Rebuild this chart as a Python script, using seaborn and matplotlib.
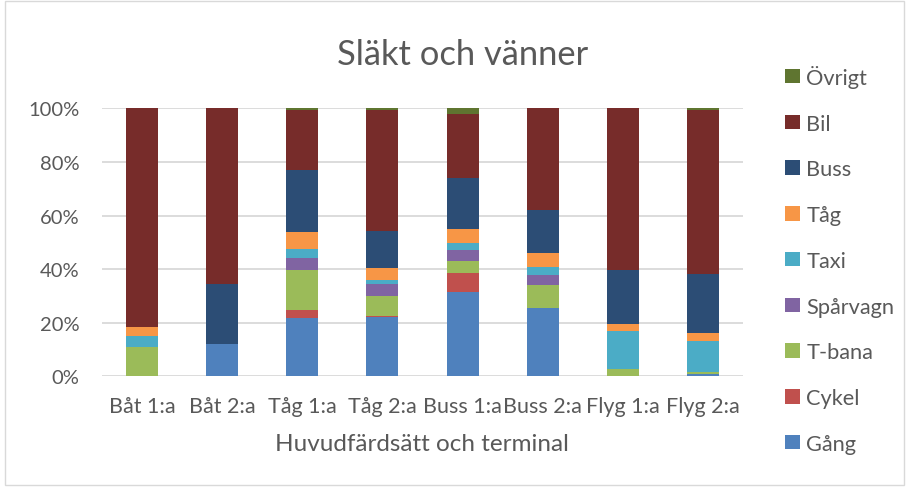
import numpy as np
import pandas as pd
import matplotlib
matplotlib.use("Agg")
import matplotlib.pyplot as plt
from matplotlib.patches import Patch, Rectangle
from matplotlib.ticker import PercentFormatter
import seaborn as sns

# terminals / main travel mode
categories = ['Båt 1:a', 'Båt 2:a', 'Tåg 1:a', 'Tåg 2:a', 'Buss 1:a', 'Buss 2:a', 'Flyg 1:a', 'Flyg 2:a']

# share (%) per access mode, bottom to top
gang     = [0.0, 12.0, 21.6, 22.0, 31.3, 25.4, 0.3, 0.7]
cykel    = [0.0, 0.0, 3.0, 0.5, 7.4, 0.0, 0.0, 0.0]
tbana    = [10.9, 0.0, 15.0, 7.6, 4.3, 8.6, 2.4, 0.8]
sparvagn = [0.0, 0.0, 4.6, 4.5, 4.1, 3.9, 0.0, 0.0]
taxi     = [4.3, 0.0, 3.4, 1.3, 2.7, 3.0, 14.1, 11.6]
tag      = [3.2, 0.0, 6.4, 4.5, 5.3, 5.1, 2.7, 3.2]
buss     = [0.0, 22.5, 22.9, 13.7, 18.8, 15.9, 20.1, 21.8]
bil      = [81.6, 65.5, 22.5, 45.4, 24.1, 38.1, 60.4, 61.4]
ovrigt   = [0.0, 0.0, 0.6, 0.5, 2.0, 0.0, 0.0, 0.5]

series_names = ['Gång', 'Cykel', 'T-bana', 'Spårvagn', 'Taxi', 'Tåg', 'Buss', 'Bil', 'Övrigt']
series_vals = [gang, cykel, tbana, sparvagn, taxi, tag, buss, bil, ovrigt]
colors = ['#4F81BD', '#C0504D', '#9BBB59', '#8064A2', '#4BACC6', '#F79646', '#2C4D75', '#772C2A', '#5F7530']

TXT = '#595959'

sns.set_theme(style='white')
plt.rcParams['font.family'] = ['Lato', 'DejaVu Sans']

df = pd.DataFrame(dict(zip(series_names, series_vals)), index=categories) / 100.0
cum = df.cumsum(axis=1)

fig = plt.figure(figsize=(9.08, 4.89), dpi=100)
ax = fig.add_axes([0.1123, 0.2284, 0.7060, 0.548])

# draw cumulative bars from top layer down so lower layers cover the upper ones
for name, col in reversed(list(zip(series_names, colors))):
    sns.barplot(x=categories, y=cum[name].values, color=col, saturation=1,
                width=0.4, errorbar=None, ax=ax, zorder=3, linewidth=0)

ax.set_xlim(-0.5, 7.5)
ax.set_ylim(0, 1)
ax.set_yticks(np.arange(0, 1.01, 0.2))
ax.yaxis.set_major_formatter(PercentFormatter(1.0, decimals=0))
ax.grid(axis='y', color='#D9D9D9', linewidth=1.3, zorder=0)
ax.set_axisbelow(True)
for s in ax.spines.values():
    s.set_visible(False)
ax.tick_params(axis='x', length=0, labelsize=15.5, colors=TXT, pad=14)
ax.tick_params(axis='y', length=0, labelsize=14.5, colors=TXT, pad=16)
ax.set_xlabel('')
ax.set_ylabel('')

fig.text(0.51, 0.888, 'Släkt och vänner', ha='center', va='center', fontsize=24.8, color=TXT)
fig.text(0.465, 0.092, 'Huvudfärdsätt och terminal', ha='center', va='center', fontsize=17.5, color=TXT)

handles = [Patch(facecolor=c, edgecolor='none') for c in colors][::-1]
labels = series_names[::-1]
fig.legend(handles, labels, loc='upper left', bbox_to_anchor=(0.853, 0.8876),
           frameon=False, fontsize=15.7, labelcolor=TXT, handlelength=0.65, handleheight=0.65,
           handletextpad=0.3, labelspacing=1.18, borderpad=0)

fig.add_artist(Rectangle((0.006, 0.006), 0.99, 0.99, transform=fig.transFigure,
                         fill=False, edgecolor='#D9D9D9', linewidth=1))

fig.savefig('out.png', dpi=100)
